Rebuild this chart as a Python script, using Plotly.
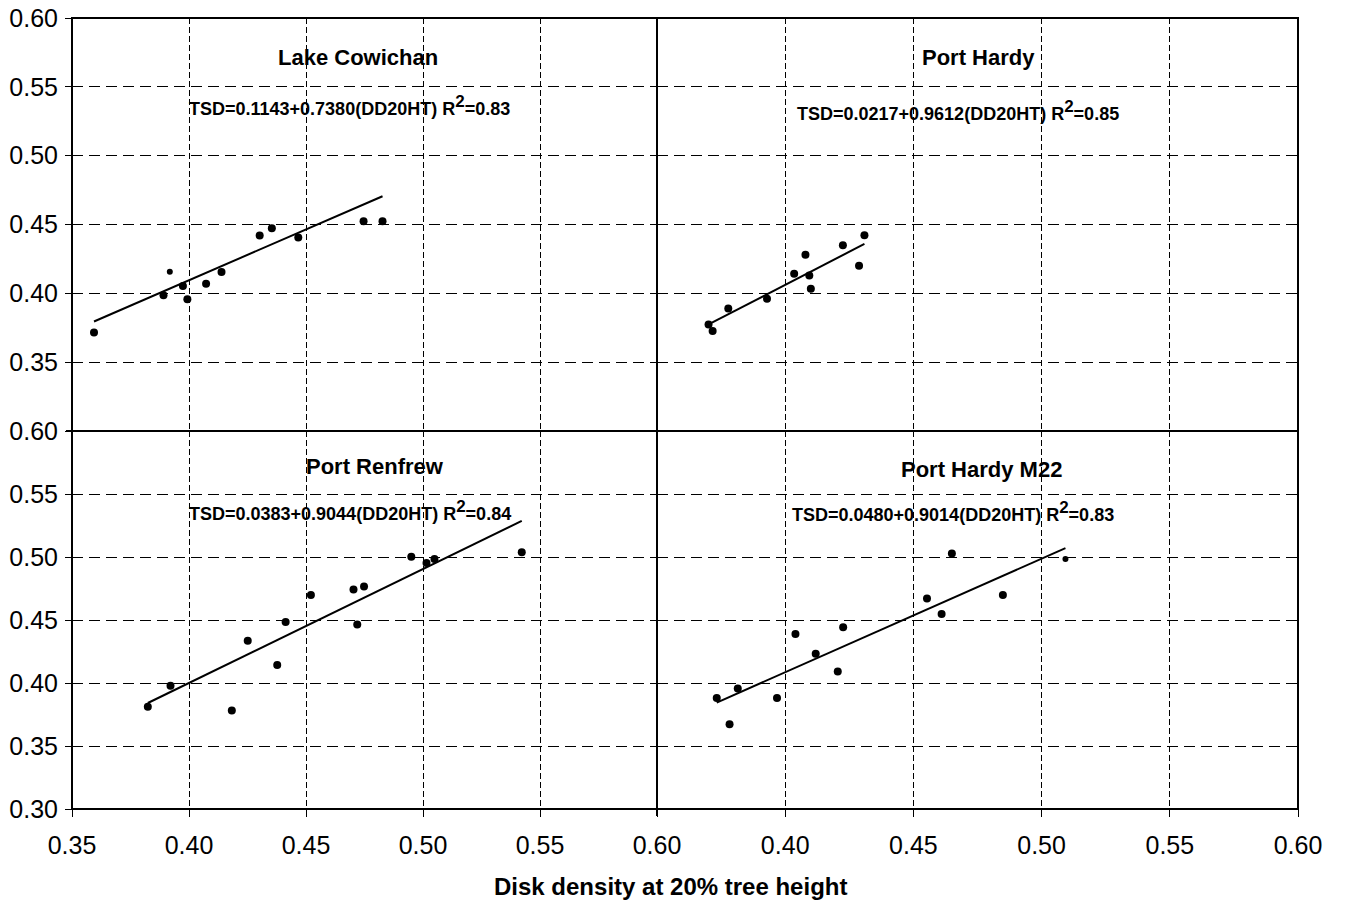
import plotly.graph_objects as go

# ---- data -------------------------------------------------------------
sites = ["Lake Cowichan", "Port Hardy", "Port Renfrew", "Port Hardy M22"]

lc_x = [0.3594, 0.3891, 0.3918, 0.3974, 0.3993, 0.4073, 0.4139, 0.4302, 0.4354, 0.4467, 0.4746, 0.4827]
lc_y = [0.3715, 0.3986, 0.4157, 0.4053, 0.3957, 0.4070, 0.4155, 0.4420, 0.4473, 0.4406, 0.4524, 0.4524]

ph_x = [0.3701, 0.3717, 0.3778, 0.3929, 0.4035, 0.4079, 0.4094, 0.4100, 0.4225, 0.4288, 0.4309]
ph_y = [0.3774, 0.3726, 0.3890, 0.3960, 0.4142, 0.4280, 0.4130, 0.4033, 0.4350, 0.4200, 0.4422]

pr_x = [0.3824, 0.3921, 0.4183, 0.4251, 0.4377, 0.4413, 0.4521, 0.4703, 0.4748, 0.4719, 0.4950,
        0.5015, 0.5049, 0.5422]
pr_y = [0.3811, 0.3978, 0.3782, 0.4335, 0.4142, 0.4485, 0.4699, 0.4742, 0.4766, 0.4464, 0.5001,
        0.4953, 0.4985, 0.5038]

m22_x = [0.3733, 0.3783, 0.3815, 0.3968, 0.4040, 0.4119, 0.4205, 0.4226, 0.4553, 0.4610, 0.4650,
         0.4849, 0.5093]
m22_y = [0.3880, 0.3673, 0.3957, 0.3880, 0.4389, 0.4232, 0.4092, 0.4442, 0.4670, 0.4548, 0.5027,
         0.4699, 0.4985]

intercepts = [0.1143, 0.0217, 0.0383, 0.0480]
slopes = [0.7380, 0.9612, 0.9044, 0.9014]
r_squared = [0.83, 0.85, 0.84, 0.83]

tick_values = [0.30, 0.35, 0.40, 0.45, 0.50, 0.55, 0.60]
x_title = "Disk density at 20% tree height"

# ---- layout geometry (pixels) -----------------------------------------
W, H = 1345, 900
X_LEFT, X_MID, X_RIGHT = 72, 657, 1298
Y_TOP, Y_MID, Y_BOTTOM = 18, 431, 809


def fx(p):
    return p / W


def fy(p):
    return 1 - p / H


x_domains = [[fx(X_LEFT), fx(X_MID)], [fx(X_MID), fx(X_RIGHT)]]
y_domains = [[fy(Y_MID), fy(Y_TOP)], [fy(Y_BOTTOM), fy(Y_MID)]]

FONT = "Liberation Sans, Arial, sans-serif"

xs = [lc_x, ph_x, pr_x, m22_x]
ys = [lc_y, ph_y, pr_y, m22_y]
small_points = [[2], [], [], [12]]          # dots drawn a little smaller
title_pos = [(0.4724, 0.5710), (0.4754, 0.5710), (0.4793, 0.5722), (0.4766, 0.5698)]
eq_pos = [(0.4688, 0.5365), (0.4674, 0.5330), (0.4687, 0.5370), (0.4656, 0.5365)]

fig = go.Figure()
annotations = []

for i in range(4):
    row, col = divmod(i, 2)
    sfx = "" if i == 0 else str(i + 1)
    xa, ya = "x" + sfx, "y" + sfx

    sizes = [6 if k in small_points[i] else 8 for k in range(len(xs[i]))]
    fig.add_trace(go.Scatter(
        x=xs[i], y=ys[i], mode="markers", xaxis=xa, yaxis=ya,
        marker=dict(color="black", size=sizes, opacity=1, line=dict(width=0)),
        showlegend=False, name=sites[i]))

    x0, x1 = min(xs[i]), max(xs[i])
    fig.add_trace(go.Scatter(
        x=[x0, x1], y=[intercepts[i] + slopes[i] * x0, intercepts[i] + slopes[i] * x1],
        mode="lines", xaxis=xa, yaxis=ya, line=dict(color="black", width=2),
        showlegend=False, hoverinfo="skip"))

    bottom = row == 1
    left = col == 0

    # x axis: labels only along the bottom row; the shared 0.35/0.60 edge is labelled once
    xv = tick_values[1:] if left else tick_values[2:]
    fig.update_layout(**{
        ("xaxis" + sfx): dict(
            domain=x_domains[col], range=[0.35, 0.60], anchor=ya,
            tickmode="array", tickvals=xv, ticktext=[f"{v:.2f}" for v in xv],
            showgrid=True, gridcolor="black", gridwidth=1, griddash="6px,3px",
            zeroline=False, showline=False,
            ticks="outside" if bottom else "", ticklen=7, tickwidth=1, tickcolor="black",
            showticklabels=bottom, ticklabelstandoff=7,
            tickfont=dict(family=FONT, size=25, color="black"),
            automargin=False, fixedrange=True),
    })

    # y axis: labels only along the left column; the shared 0.30/0.60 edge is labelled once
    yv = tick_values if bottom else tick_values[1:]
    fig.update_layout(**{
        ("yaxis" + sfx): dict(
            domain=y_domains[row], range=[0.30, 0.60], anchor=xa,
            tickmode="array", tickvals=yv, ticktext=[f"{v:.2f}" for v in yv],
            showgrid=True, gridcolor="black", gridwidth=1, griddash="11px,6px",
            zeroline=False, showline=False,
            ticks="outside" if left else "", ticklen=6, tickwidth=1, tickcolor="black",
            showticklabels=left, ticklabelstandoff=2,
            tickfont=dict(family=FONT, size=25, color="black"),
            automargin=False, fixedrange=True),
    })

    annotations.append(dict(
        x=title_pos[i][0], y=title_pos[i][1], xref=xa, yref=ya, text=sites[i],
        showarrow=False, xanchor="center", yanchor="middle",
        font=dict(family=FONT, size=22, color="black", weight="bold")))
    eq = (f"TSD={intercepts[i]:.4f}+{slopes[i]:.4f}(DD20HT) "
          f"R<sup><span style='font-size:17px'>2</span></sup>={r_squared[i]:.2f}")
    annotations.append(dict(
        x=eq_pos[i][0], y=eq_pos[i][1], xref=xa, yref=ya, text=eq,
        showarrow=False, xanchor="center", yanchor="middle",
        font=dict(family=FONT, size=18, color="black", weight="bold")))

annotations.append(dict(
    x=fx(670), y=fy(886), xref="paper", yref="paper", text=x_title,
    showarrow=False, xanchor="center", yanchor="middle",
    font=dict(family=FONT, size=24, color="black", weight="bold")))

frame = dict(color="black", width=2)
shapes = [
    dict(type="rect", xref="paper", yref="paper", x0=fx(X_LEFT), x1=fx(X_RIGHT),
         y0=fy(Y_BOTTOM), y1=fy(Y_TOP), line=frame, layer="above"),
    dict(type="line", xref="paper", yref="paper", x0=fx(X_MID), x1=fx(X_MID),
         y0=fy(Y_BOTTOM + 7), y1=fy(Y_TOP), line=frame, layer="above"),
    dict(type="line", xref="paper", yref="paper", x0=fx(X_LEFT - 6), x1=fx(X_RIGHT),
         y0=fy(Y_MID), y1=fy(Y_MID), line=frame, layer="above"),
]

fig.update_layout(
    width=W, height=H, margin=dict(l=0, r=0, t=0, b=0),
    paper_bgcolor="white", plot_bgcolor="white",
    annotations=annotations, shapes=shapes, showlegend=False,
    font=dict(family=FONT, color="black"),
)

fig.write_html("out.html")
